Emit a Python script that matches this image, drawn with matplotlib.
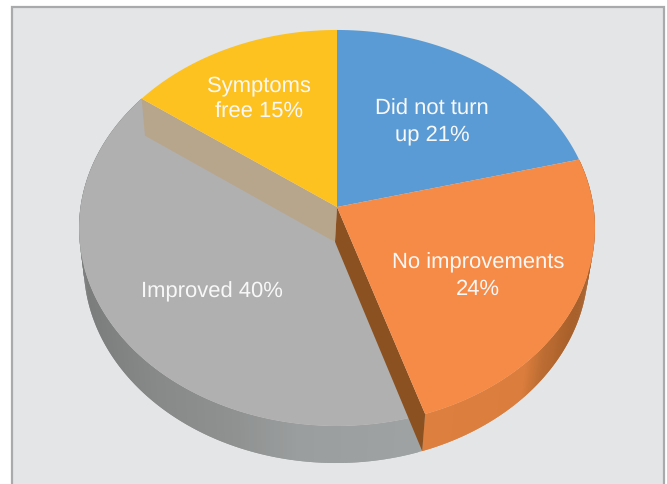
import numpy as np
import matplotlib
matplotlib.use("Agg")
import matplotlib.pyplot as plt
from matplotlib.colors import to_rgb

plt.rcParams['font.family'] = ['Liberation Sans', 'DejaVu Sans']
plt.rcParams['text.hinting'] = 'no_hinting'
plt.rcParams['text.hinting_factor'] = 1

labels = ["Did not turn\nup 21%", "No improvements\n24%", "Improved 40%", "Symptoms\nfree 15%"]
values = [21, 24, 40, 15]
top_colors = ["#5b9bd5", "#f58b47", "#b0b0b0", "#fec220"]

# where each label sits, in figure pixels
label_x = [432, 478, 212, 259]
label_y = [122, 276, 292, 99]

# shading along the rim, keyed on pixel x
orange_rim_x = [431, 525, 545, 575, 600]
orange_rim_c = ["#dd803f", "#db7e3d", "#bd6d33", "#a9602a", "#a35c27"]
grey_rim_x = [80, 150, 230, 300, 435]
grey_rim_c = ["#7a7c7c", "#878888", "#8f9191", "#9b9e9e", "#a0a3a3"]

CX, CY = 337.0, 207.0
B = -0.106    # foreshortening of the disc
A = 195.8
C = 256.5
DEPTH = 37.0


def top_point(theta):
    # theta clockwise from 12 o'clock, on the unit disc
    u, v = np.sin(theta), -np.cos(theta)
    w = 1 + B * v
    return CX + C * u / w, CY + A * v / w


def bottom_point(x, y):
    return 336 + (x - CX) * 0.978, y + DEPTH


def rim_color(x, xs, cs):
    rgb = np.array([to_rgb(c) for c in cs])
    return tuple(np.interp(x, xs, rgb[:, i]) for i in range(3))


def draw_rim(ax, t0, t1, xs, cs):
    ts = np.linspace(t0, t1, 160)
    tx, ty = top_point(ts)
    bx, by = bottom_point(tx, ty)
    # each strip runs under the next one so no seams show
    for i in range(len(ts) - 1):
        j = min(i + 2, len(ts) - 1)
        c = rim_color((tx[i] + tx[i + 1]) / 2, xs, cs)
        ax.fill([tx[i], tx[j], bx[j], bx[i]], [ty[i], ty[j], by[j], by[i]], color=c, lw=0)


def draw_wall(ax, theta, color):
    x, y = top_point(theta)
    bx, by = bottom_point(x, y)
    ax.fill([CX, x, bx, 335], [CY, y, by, CY + 35], color=color, lw=0)


fig = plt.figure(figsize=(6.67, 4.84), dpi=100, facecolor="white")
ax = fig.add_axes([0, 0, 1, 1])
ax.set_xlim(0, 667)
ax.set_ylim(484, 0)
ax.set_axis_off()

# panel behind the pie, open at the bottom
ax.fill([11.5, 664, 664, 11.5], [7, 7, 490, 490], facecolor="#e4e5e7", edgecolor="#a9aaac", lw=1.6)

edges = np.cumsum([0] + values) / sum(values) * 2 * np.pi

# rims first, then the grey face, the cut walls and the other faces
draw_rim(ax, edges[2], edges[3], grey_rim_x, grey_rim_c)
draw_rim(ax, edges[1], edges[2], orange_rim_x, orange_rim_c)

# the grey face runs down to the foot of the walls
ts = np.linspace(edges[2], edges[3], 200)
tx, ty = top_point(ts)
ax.fill(np.r_[335, tx], np.r_[CY + 35, ty], color=top_colors[2], lw=0)

draw_wall(ax, edges[3], "#b7a68c")
draw_wall(ax, edges[2], "#8b5120")

for i in [0, 1, 3]:
    ts = np.linspace(edges[i], edges[i + 1], 120)
    tx, ty = top_point(ts)
    ax.fill(np.r_[CX, tx], np.r_[CY, ty], color=top_colors[i], lw=0)

for lab, x, y in zip(labels, label_x, label_y):
    ax.text(x, y, lab, color="#f8f8f8", fontsize=15.6, ha="center", va="center", linespacing=1.33)

fig.savefig("out.png", dpi=100)
